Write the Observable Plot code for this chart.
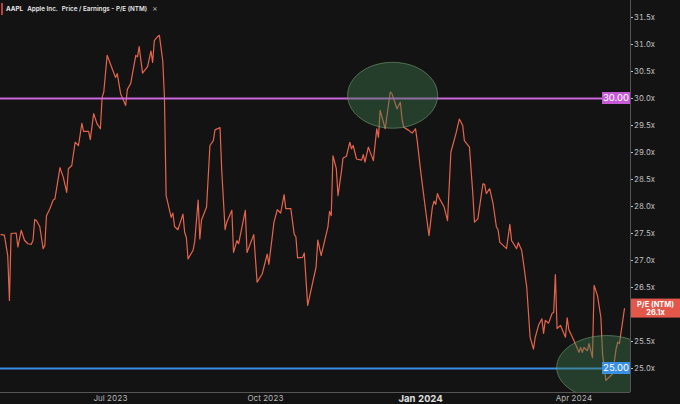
<!DOCTYPE html>
<html><head><meta charset="utf-8">
<script src="https://cdn.jsdelivr.net/npm/d3@7"></script>
<script src="https://cdn.jsdelivr.net/npm/@observablehq/plot@0.6"></script>
<style>
html,body{margin:0;padding:0;background:#131313;}
#chart{width:680px;height:404px;overflow:hidden;}
svg{display:block;}
</style></head><body><div id="chart"></div>
<script>
// ---- data ----
const dates = [
"2023-04-27","2023-04-29","2023-05-01","2023-05-02","2023-05-03","2023-05-06","2023-05-07","2023-05-09","2023-05-11","2023-05-13",
"2023-05-15","2023-05-16","2023-05-17","2023-05-18","2023-05-20","2023-05-22","2023-05-23","2023-05-24","2023-05-26","2023-05-28",
"2023-05-29","2023-06-01","2023-06-03","2023-06-05","2023-06-06","2023-06-08","2023-06-10","2023-06-12","2023-06-14","2023-06-15",
"2023-06-18","2023-06-19","2023-06-21","2023-06-23","2023-06-25","2023-06-26","2023-06-27","2023-06-29","2023-07-02","2023-07-04",
"2023-07-05","2023-07-07","2023-07-10","2023-07-11","2023-07-13","2023-07-16","2023-07-17","2023-07-18","2023-07-20","2023-07-23",
"2023-07-25","2023-07-26","2023-07-27","2023-07-29","2023-07-30","2023-08-01","2023-08-02","2023-08-03","2023-08-06","2023-08-07",
"2023-08-08","2023-08-10","2023-08-13","2023-08-14","2023-08-15","2023-08-16","2023-08-19","2023-08-20","2023-08-22","2023-08-23",
"2023-08-24","2023-08-27","2023-08-29","2023-08-31","2023-09-01","2023-09-04","2023-09-05","2023-09-07","2023-09-08","2023-09-11",
"2023-09-12","2023-09-14","2023-09-15","2023-09-19","2023-09-20","2023-09-24","2023-09-26","2023-09-29","2023-10-02","2023-10-03",
"2023-10-06","2023-10-08","2023-10-10","2023-10-12","2023-10-13","2023-10-16","2023-10-18","2023-10-19","2023-10-20","2023-10-23",
"2023-10-24","2023-10-26","2023-10-31","2023-11-01","2023-11-03","2023-11-07","2023-11-08","2023-11-09","2023-11-10","2023-11-12",
"2023-11-13","2023-11-15","2023-11-16","2023-11-18","2023-11-20","2023-11-21","2023-11-22","2023-11-24","2023-11-27","2023-11-28",
"2023-11-29","2023-12-01","2023-12-04","2023-12-06","2023-12-07","2023-12-08","2023-12-11","2023-12-14","2023-12-15","2023-12-18",
"2023-12-20","2023-12-21","2023-12-22","2023-12-25","2023-12-27","2023-12-29","2023-12-30","2024-01-01","2024-01-04","2024-01-06",
"2024-01-08","2024-01-09","2024-01-10","2024-01-11","2024-01-12","2024-01-15","2024-01-17","2024-01-19","2024-01-22","2024-01-24",
"2024-01-26","2024-01-27","2024-01-30","2024-02-01","2024-02-02","2024-02-04","2024-02-07","2024-02-08","2024-02-09","2024-02-11",
"2024-02-13","2024-02-15","2024-02-16","2024-02-17","2024-02-21","2024-02-23","2024-02-24","2024-02-27","2024-02-28","2024-03-01",
"2024-03-02","2024-03-04","2024-03-06","2024-03-08","2024-03-09","2024-03-11","2024-03-13","2024-03-14","2024-03-15","2024-03-17",
"2024-03-19","2024-03-20","2024-03-21","2024-03-22","2024-03-24","2024-03-27","2024-03-28","2024-03-29","2024-04-01","2024-04-04",
"2024-04-05","2024-04-06","2024-04-07","2024-04-09","2024-04-10","2024-04-12","2024-04-13","2024-04-15","2024-04-17","2024-04-18",
"2024-04-20","2024-04-23","2024-04-24","2024-04-26","2024-04-27","2024-04-28","2024-05-01"
];
const peValues = [
27.48,27.47,27.09,26.26,27.50,27.51,27.25,27.56,27.37,27.31,
27.30,27.37,27.76,27.74,27.63,27.22,27.28,27.83,27.96,28.12,
28.14,28.72,28.54,28.26,28.70,28.76,29.19,29.13,29.54,29.39,
29.39,29.24,29.72,29.53,29.44,30.02,30.12,30.80,30.55,30.39,
30.46,30.09,29.87,30.17,30.28,30.80,30.77,30.96,30.47,30.59,
30.88,30.67,31.07,31.15,31.17,30.70,30.02,28.20,27.80,27.88,
27.63,27.57,27.86,27.52,27.43,27.03,27.19,27.36,28.12,27.40,
27.75,27.99,29.13,29.22,29.42,29.46,28.67,27.57,27.71,27.93,
27.15,27.37,27.31,27.93,27.15,27.48,26.60,26.75,27.12,26.93,
27.71,27.94,27.88,28.22,27.96,27.96,27.49,27.44,27.05,27.06,
27.14,26.17,26.88,27.38,27.09,27.62,27.91,27.83,28.94,28.70,
28.20,28.64,28.90,28.93,29.19,29.07,29.13,28.88,28.86,28.96,
28.82,29.10,28.85,29.44,29.28,29.78,29.44,30.12,30.09,29.81,
29.93,29.62,29.47,29.41,29.36,29.44,29.22,28.67,27.93,27.46,
27.99,28.10,28.04,28.24,28.16,27.99,27.74,29.01,29.35,29.62,
29.50,29.22,29.10,28.24,27.71,27.77,28.42,28.41,28.24,28.33,
28.06,27.62,27.57,27.34,27.22,27.67,27.37,27.22,27.33,27.19,
26.97,26.51,25.58,25.36,25.57,25.80,25.92,25.65,25.89,25.84,
26.02,26.04,26.74,25.74,25.80,25.58,25.94,25.72,25.52,25.30,
25.39,25.30,25.39,25.33,25.46,25.20,26.54,26.35,25.95,25.27,
24.78,24.87,24.90,25.36,25.49,25.46,26.11
];
const xTickDates = ["2023-07-01","2023-10-01","2024-04-01"];
const xTickLabels = ["Jul 2023","Oct 2023","Apr 2024"];
const yearTickDates = ["2024-01-01"];
const yearTickLabels = ["Jan 2024"];
// 26.0x sits under the last-value tag in the reference
const yTicks = [25.0,25.5,26.5,27.0,27.5,28.0,28.5,29.0,29.5,30.0,30.5,31.0,31.5];
const levelValues = [30, 25];
const levelLabels = ["30.00", "25.00"];
const highlightCenters = ["2023-12-15T10:00:00Z", "2024-04-20T12:00:00Z"];
const highlightValues = [30.06, 25.02];
const highlightHalfDays = [26.7, 29.7];
const highlightHalfValue = [0.61, 0.59];
const legendParts = ["AAPL", "Apple Inc.", "Price / Earnings - P/E (NTM)", "\u00d7"];
const seriesName = "P/E (NTM)";

// ---- styles ----
const BG = "#131313";
const LINE = "#e6644c";
const LEVEL_COLORS = ["#cc66dd", "#3a8ee6"];
const TAG_COLORS = ["#c65bd6", "#3b8fe3"];
const FONT = "Inter, 'Noto Sans', 'DejaVu Sans', sans-serif";

const series = dates.map((d, i) => ({date: new Date(d), pe: peValues[i]}));
const xDomain = [new Date("2023-04-26T17:00:00Z"), new Date("2024-05-04T14:00:00Z")];
const yDomain = [24.556, 31.815];

// ellipse outlines (annotation shapes)
const ellipsePts = [];
highlightCenters.forEach((c, k) => {
  const t0 = new Date(c).getTime();
  for (let j = 0; j < 96; j++) {
    const a = 2 * Math.PI * j / 96;
    ellipsePts.push({id: k,
      date: new Date(t0 + highlightHalfDays[k] * 86400000 * Math.cos(a)),
      pe: highlightValues[k] + highlightHalfValue[k] * Math.sin(a)});
  }
});

function levelTag(k) {
  return (index, scales, values, dim) => {
    const y = scales.y(levelValues[k]);
    const x2 = dim.width - dim.marginRight;
    const g = d3.create("svg:g");
    g.append("rect").attr("x", x2 - 28).attr("y", y - 6).attr("width", 28).attr("height", 12).attr("fill", TAG_COLORS[k]);
    g.append("text").attr("x", x2 - 14).attr("y", y).attr("dy", "0.36em").attr("text-anchor", "middle")
      .attr("fill", "#fff").attr("font-size", 9.5).attr("font-family", FONT).text(levelLabels[k]);
    return g.node();
  };
}

function lastTag(index, scales, values, dim) {
  const last = series[series.length - 1];
  const y = scales.y(last.pe);
  const x1 = dim.width - dim.marginRight + 1;
  const g = d3.create("svg:g").attr("font-family", FONT).attr("font-weight", 700).attr("font-size", 7.4);
  g.append("rect").attr("x", x1).attr("y", y - 9.5).attr("width", dim.width - x1).attr("height", 19).attr("fill", "#e2574a");
  const cx = x1 + (dim.width - x1) / 2;
  g.append("text").attr("x", cx).attr("y", y - 3.8).attr("dy", "0.35em").attr("text-anchor", "middle").attr("fill", "#fff").text(seriesName);
  g.append("text").attr("x", cx).attr("y", y + 4.4).attr("dy", "0.35em").attr("text-anchor", "middle").attr("fill", "#fff").text(last.pe.toFixed(1) + "x");
  return g.node();
}

function legend(index, scales, values, dim) {
  const g = d3.create("svg:g").attr("font-family", FONT).attr("font-size", 6.3).attr("fill", "#e8e8e8").attr("text-anchor", "start");
  g.append("rect").attr("x", 1).attr("y", 3).attr("width", 2).attr("height", 12).attr("fill", "#b5433b");
  const t = g.append("text").attr("x", 6).attr("y", 9).attr("dy", "0.35em").attr("text-anchor", "start");
  t.append("tspan").attr("font-weight", 700).text(legendParts[0]);
  t.append("tspan").attr("dx", 4).attr("font-weight", 600).text(legendParts[1]);
  t.append("tspan").attr("dx", 4).attr("font-weight", 600).text(legendParts[2]);
  t.append("tspan").attr("dx", 5).attr("font-size", 8).attr("fill", "#bbb").text(legendParts[3]);
  return g.node();
}

const chart = Plot.plot({
  width: 680, height: 404,
  marginLeft: 0, marginRight: 50, marginTop: 0, marginBottom: 12,
  style: {background: BG, color: "#c8c8c8", fontFamily: FONT},
  x: {type: "utc", domain: xDomain, axis: null},
  y: {domain: yDomain, axis: null},
  marks: [
    Plot.ruleX([xDomain[1]], {stroke: "#555"}),
    Plot.ruleY([yDomain[0]], {stroke: "#555"}),
    Plot.axisY({anchor: "right", label: null, ticks: yTicks, tickFormat: d => d.toFixed(1) + "x", tickSize: 2, tickPadding: 1.5, fontSize: 7.6, color: "#c4c4c4"}),
    Plot.axisX({label: null, ticks: xTickDates.map(d => new Date(d)), tickFormat: (d, i) => xTickLabels[i], tickSize: 0, tickPadding: 2.5, fontSize: 8, color: "#b8b8b8"}),
    Plot.axisX({label: null, ticks: yearTickDates.map(d => new Date(d)), tickFormat: (d, i) => yearTickLabels[i], tickSize: 0, tickPadding: 2.5, fontSize: 9.5, fontWeight: 700, color: "#e0e0e0"}),
    Plot.line(series, {x: "date", y: "pe", stroke: LINE, strokeWidth: 1.2}),
    Plot.ruleY([levelValues[0]], {stroke: LEVEL_COLORS[0], strokeWidth: 2}),
    Plot.ruleY([levelValues[1]], {stroke: LEVEL_COLORS[1], strokeWidth: 2}),
    Plot.line(ellipsePts, {x: "date", y: "pe", z: "id", curve: "linear-closed", fill: "#3f7a4e", fillOpacity: 0.42, stroke: "#7aa97f", strokeOpacity: 0.55, strokeWidth: 1, clip: true}),
    levelTag(0),
    levelTag(1),
    lastTag,
    legend
  ]
});
document.getElementById("chart").appendChild(chart);
</script>
</body></html>
